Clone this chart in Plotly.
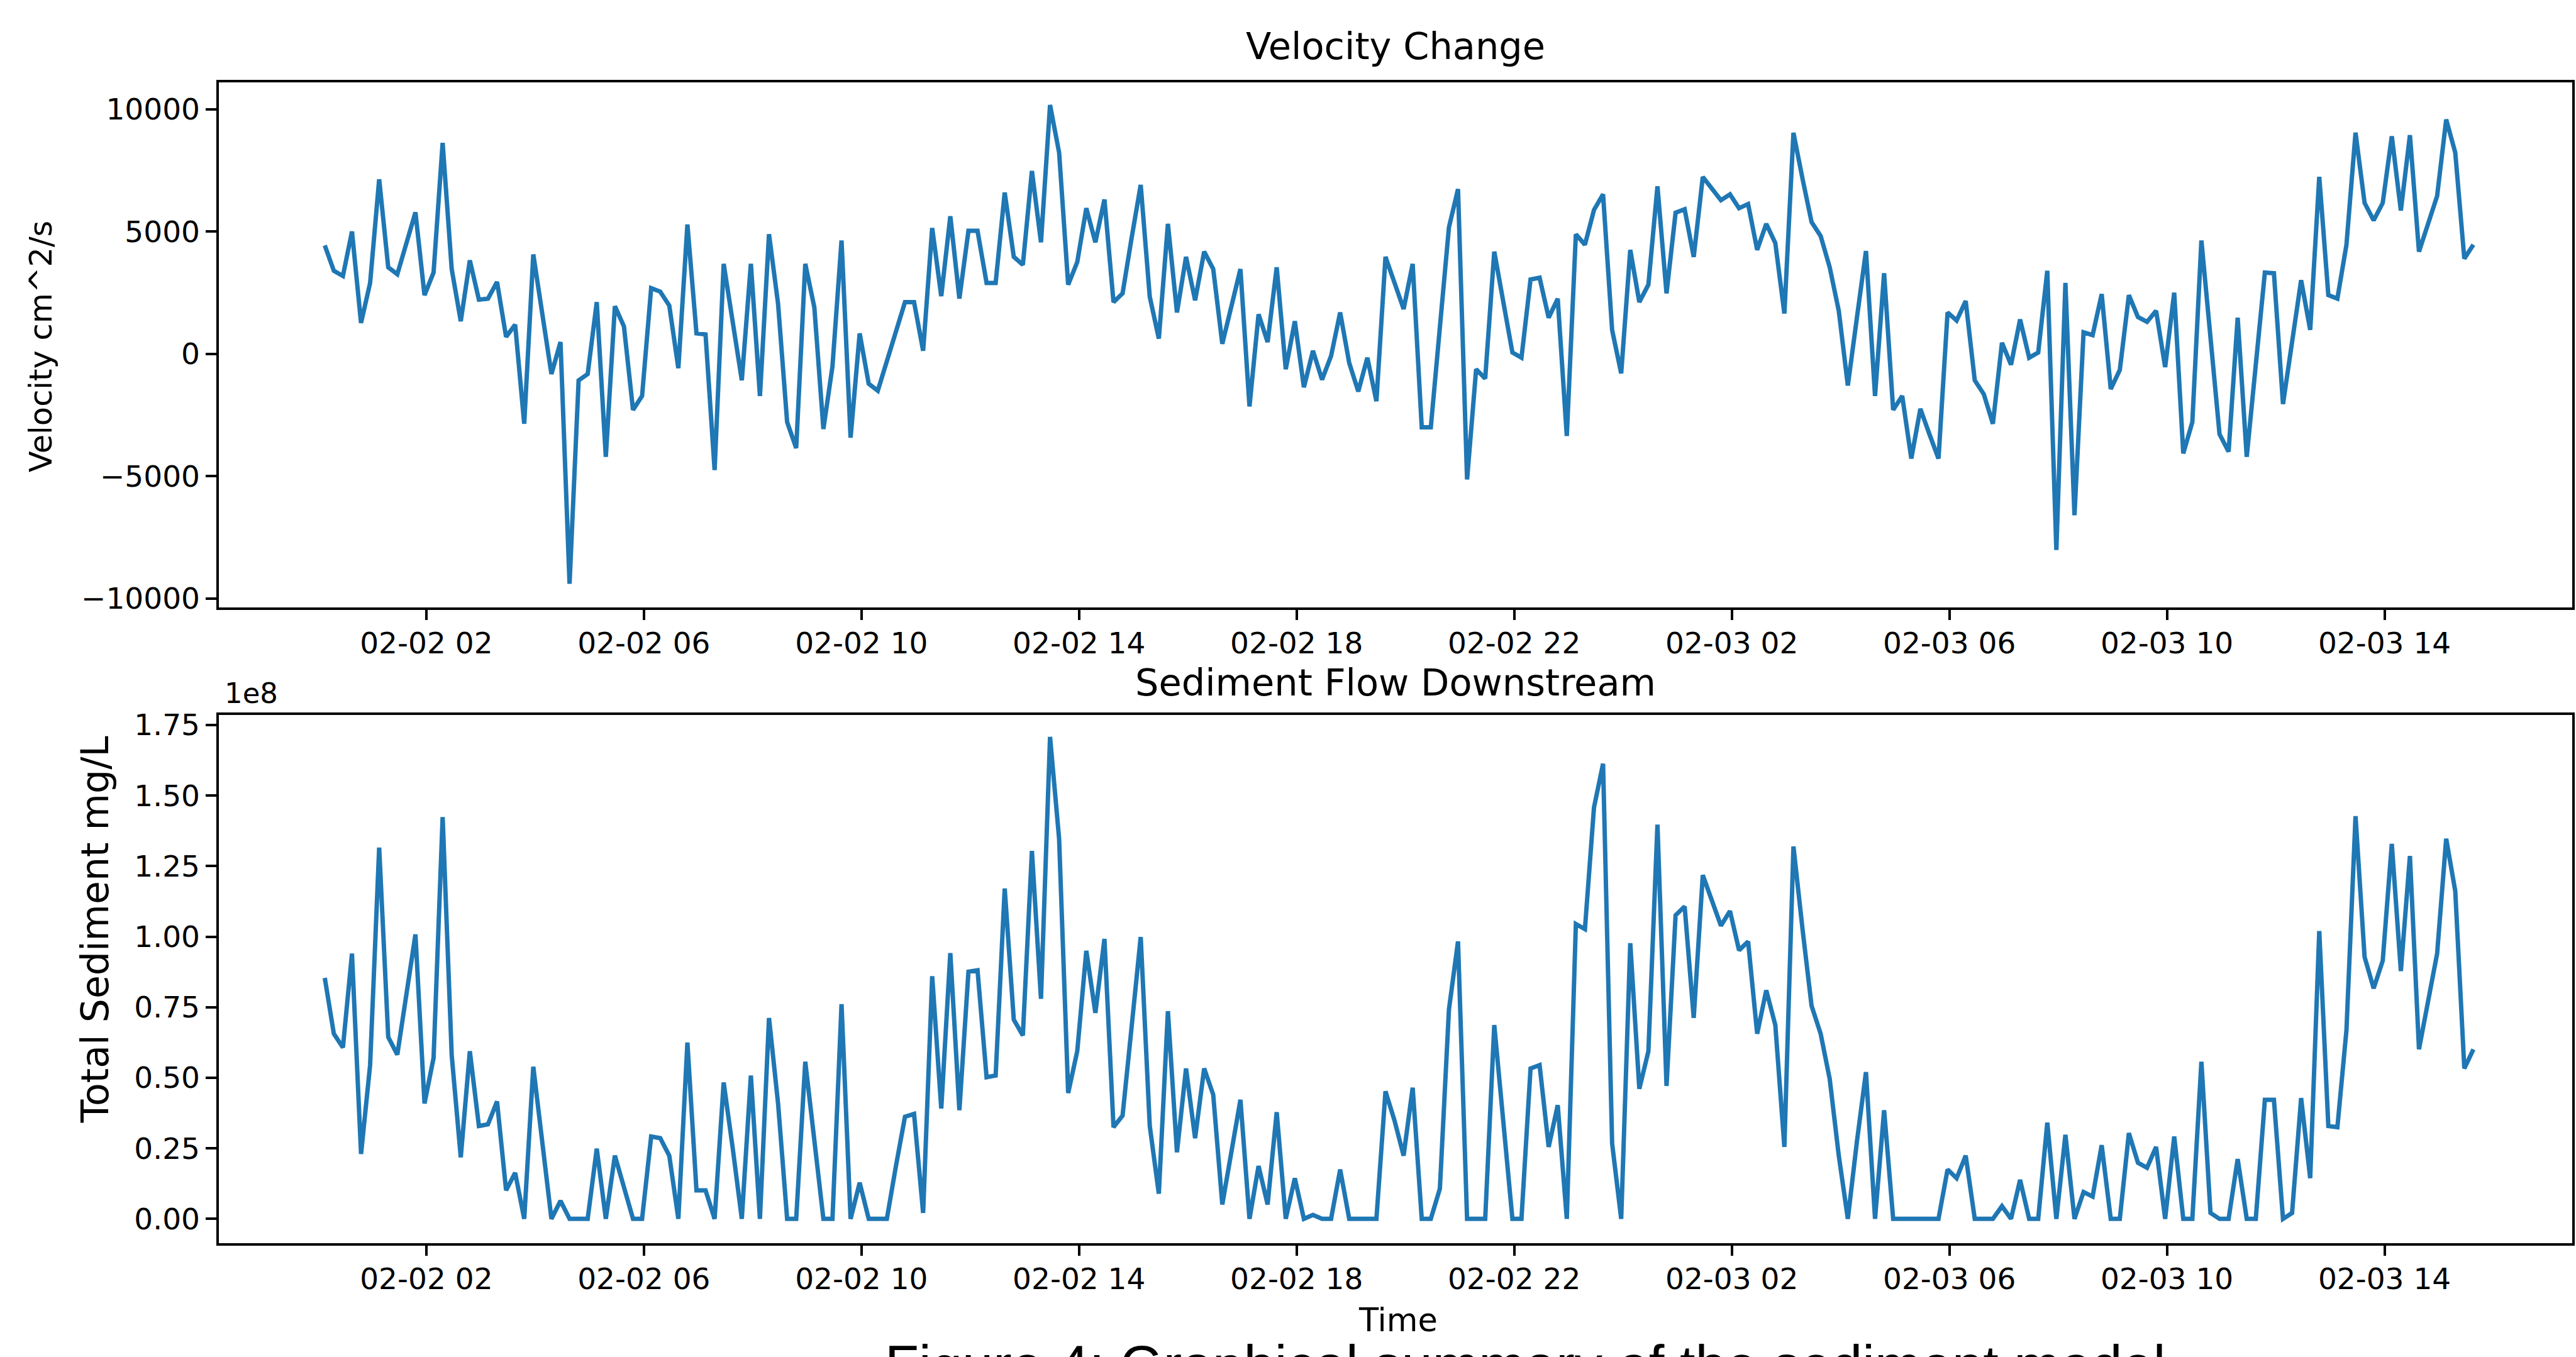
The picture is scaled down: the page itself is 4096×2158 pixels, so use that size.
import plotly.graph_objects as go
import pandas as pd

# ---------------- data ----------------
START = "2018-02-02 00:08"
STEP = "10min"

velocity = [
    4434, 3396, 3183, 5002, 1265, 2899, 7133, 3538, 3254, 4462,
    5783, 2401, 3325, 8625, 3467, 1336, 3822, 2217, 2259, 2941,
    696, 1194, -2856, 4064, 1620, -824, 483, -9393, -1080, -824,
    2117, -4206, 1947, 1123, -2288, -1719, 2686, 2544, 1975, -583,
    5286, 838, 796, -4746, 3680, 1336, -1080,
    3680, -1719, 4888, 2046, -2785, -3851, 3680, 1904, -3069, -512,
    4632, -3425, 838, -1222, -1506, -298, 909, 2117, 2117, 128,
    5144, 2359, 5627, 2259, 5030, 5030, 2899, 2899, 6593, 3965,
    3638, 7474, 4561, 10174, 8228, 2828, 3751, 5954, 4561, 6309,
    2117, 2473, 4746, 6906, 2330, 625, 5315, 1691,
    3965, 2188, 4178, 3467, 412, 1904, 3467, -2146, 1620, 483,
    3538, -625, 1336, -1364, 128, -1052, -85, 1691, -369, -1535,
    -156, -1933, 3965, 2899, 1833, 3680, -2998, -2998, 1080, 5172,
    6735, -5130, -625, -1009, 4178, 2046, 57, -156, 3041, 3112,
    1478, 2259, -3354, 4888, 4462, 5883, 6522,
    980, -796, 4249, 2117, 2828, 6849, 2473, 5769, 5911, 3965,
    7233, 6735, 6281, 6522, 5954, 6125, 4249, 5315, 4533, 1648,
    9038, 7162, 5386, 4817, 3538, 1762, -1293, 1478, 4206, -1719,
    3297, -2288, -1719, -4277, -2245, -3283, -4277, 1691, 1364, 2160,
    -1080, -1648, -2856, 455, -441, 1407, -156,
    57, 3396, -8014, 2899, -6593, 881, 767, 2444, -1435, -654,
    2401, 1506, 1307, 1762, -540, 2501, -4064, -2785, 4632, 625,
    -3283, -3993, 1478, -4206, -369, 3325, 3297, -2046, 483, 3013,
    980, 7233, 2401, 2259, 4462, 9038, 6167, 5457, 6167, 8895,
    5855, 8938, 4178, 5315, 6451, 9578, 8228, 3894, 4462,
]

# total sediment, in units of 1e8 mg/L
sediment_1e8 = [
    0.854, 0.656, 0.607, 0.940, 0.230, 0.545, 1.316, 0.644, 0.582, 0.790,
    1.008, 0.409, 0.570, 1.424, 0.580, 0.218, 0.594, 0.329, 0.335, 0.416,
    0.101, 0.163, 0.0, 0.539, 0.270, 0.0, 0.064, 0.0, 0.0, 0.0,
    0.249, 0.0, 0.224, 0.110, 0.0, 0.0, 0.292, 0.286, 0.224, 0.0,
    0.625, 0.101, 0.101, 0.0, 0.483, 0.250, 0.0,
    0.508, 0.0, 0.712, 0.409, 0.0, 0.0, 0.557, 0.286, 0.0, 0.0,
    0.761, 0.0, 0.128, 0.0, 0.0, 0.0, 0.187, 0.362, 0.372, 0.021,
    0.860, 0.391, 0.942, 0.385, 0.876, 0.881, 0.502, 0.508, 1.171, 0.706,
    0.650, 1.304, 0.780, 1.708, 1.347, 0.446, 0.594, 0.950, 0.730, 0.992,
    0.325, 0.366, 0.681, 0.999, 0.329, 0.089, 0.736, 0.236,
    0.533, 0.286, 0.533, 0.440, 0.051, 0.236, 0.422, 0.0, 0.187, 0.051,
    0.378, 0.0, 0.144, 0.0, 0.014, 0.0, 0.0, 0.175, 0.0, 0.0,
    0.0, 0.0, 0.452, 0.348, 0.224, 0.465, 0.0, 0.0, 0.107, 0.742,
    0.983, 0.0, 0.0, 0.0, 0.687, 0.348, 0.0, 0.0, 0.533, 0.545,
    0.255, 0.403, 0.0, 1.045, 1.027, 1.458, 1.613,
    0.267, 0.0, 0.977, 0.461, 0.594, 1.397, 0.471, 1.076, 1.107, 0.712,
    1.218, 1.125, 1.039, 1.091, 0.952, 0.983, 0.656, 0.810, 0.687, 0.255,
    1.320, 1.027, 0.755, 0.656, 0.496, 0.224, 0.0, 0.274, 0.520, 0.0,
    0.385, 0.0, 0.0, 0.0, 0.0, 0.0, 0.0, 0.175, 0.144, 0.224,
    0.0, 0.0, 0.0, 0.045, 0.0, 0.138, 0.0,
    0.0, 0.341, 0.0, 0.298, 0.0, 0.095, 0.079, 0.261, 0.0, 0.0,
    0.304, 0.199, 0.181, 0.255, 0.0, 0.292, 0.0, 0.0, 0.557, 0.021,
    0.0, 0.0, 0.212, 0.0, 0.0, 0.422, 0.422, 0.0, 0.021, 0.428,
    0.144, 1.020, 0.329, 0.325, 0.669, 1.427, 0.928, 0.817, 0.915, 1.329,
    0.878, 1.286, 0.601, 0.780, 0.940, 1.347, 1.162, 0.533, 0.601,
]
SED_SCALE = 1e8

x_tick_labels = ["02-02 02", "02-02 06", "02-02 10", "02-02 14", "02-02 18",
                 "02-02 22", "02-03 02", "02-03 06", "02-03 10", "02-03 14"]
vel_tick_values = [-10000, -5000, 0, 5000, 10000]
vel_tick_labels = ["\u221210000", "\u22125000", "0", "5000", "10000"]
sed_tick_values = [0.0, 0.25, 0.5, 0.75, 1.0, 1.25, 1.5, 1.75]
sed_tick_labels = ["0.00", "0.25", "0.50", "0.75", "1.00", "1.25", "1.50", "1.75"]

title_top = "Velocity Change"
title_bottom = "Sediment Flow Downstream"
ylabel_top = "Velocity cm^2/s"
ylabel_bottom = "Total Sediment mg/L"
xlabel = "Time"
offset_label = "1e8"
caption = "Figure 4: Graphical summary of the sediment model"

# ---------------- geometry ----------------
W, H = 4096, 2158
S = 0.945
BLUE = "#1f77b4"
FONT = "DejaVu Sans"
# small vertical correction observed in the rendered page
VA, VB = 0.9895, 7.34

times = pd.date_range(START, periods=len(velocity), freq=STEP)
tick_times = [pd.Timestamp("2018-" + lbl[:5] + " " + lbl[6:] + ":00") for lbl in x_tick_labels]
sediment = [v * SED_SCALE for v in sediment_1e8]

def px_x(x):
    return x * S / W

def px_y(y):
    t = (y * S - VB) / VA
    return 1 - t / H

x_dom = [px_x(368), px_x(4328)]
top_dom = [px_y(1019), px_y(134.7)]
bot_dom = [px_y(2090), px_y(1200.5)]
x_range = ["2018-02-01 22:11", "2018-02-03 17:27"]

tick_font = dict(family=FONT, size=47, color="#000000")
axis_common = dict(
    showline=True, mirror=True, linecolor="#000000", linewidth=3.8,
    ticks="outside", ticklen=16.5, tickwidth=3.8, tickcolor="#000000",
    showgrid=False, zeroline=False, tickfont=tick_font,
)

fig = go.Figure()
fig.add_trace(go.Scatter(x=times, y=velocity, mode="lines",
                         line=dict(color=BLUE, width=7), xaxis="x", yaxis="y",
                         showlegend=False, hoverinfo="skip"))
fig.add_trace(go.Scatter(x=times, y=sediment, mode="lines",
                         line=dict(color=BLUE, width=7), xaxis="x2", yaxis="y2",
                         showlegend=False, hoverinfo="skip"))

fig.update_layout(
    width=W, height=H, autosize=False,
    margin=dict(l=0, r=0, t=0, b=0),
    paper_bgcolor="white", plot_bgcolor="white",
    hovermode=False,
    font=dict(family=FONT, color="#000000"),
    xaxis=dict(domain=x_dom, anchor="y", range=x_range, tickvals=tick_times,
               ticktext=x_tick_labels, ticklabelstandoff=-3, **axis_common),
    yaxis=dict(domain=top_dom, anchor="x", range=[-10350, 11100],
               tickvals=vel_tick_values, ticktext=vel_tick_labels, **axis_common),
    xaxis2=dict(domain=x_dom, anchor="y2", range=x_range, tickvals=tick_times,
                ticktext=x_tick_labels, ticklabelstandoff=-3, **axis_common),
    yaxis2=dict(domain=bot_dom, anchor="x2", range=[-0.0852 * SED_SCALE, 1.786 * SED_SCALE],
                tickvals=[v * SED_SCALE for v in sed_tick_values],
                ticktext=sed_tick_labels, **axis_common),
)

def text_ann(text, x, y, size, xanchor="center", yanchor="middle", angle=0, family=FONT):
    return dict(text=text, x=px_x(x), y=px_y(y), xref="paper", yref="paper",
                xanchor=xanchor, yanchor=yanchor, textangle=angle, showarrow=False,
                font=dict(family=family, size=size, color="#000000"))

ann = [
    text_ann(title_top, 2348, 74, 59),
    text_ann(title_bottom, 2348, 1146, 59),
    text_ann(ylabel_top, 69, 580, 49.5, angle=-90),
    text_ann(ylabel_bottom, 160, 1562, 60, angle=-90),
    text_ann(xlabel, 2352, 2220, 51),
    text_ann(offset_label, 376, 1164, 45, xanchor="left"),
    text_ann(caption, 1487, 2242, 88.5, xanchor="left", yanchor="top", family="Liberation Sans"),
]
fig.update_layout(annotations=ann)

POST = (
    "document.documentElement.style.margin='0';"
    "document.documentElement.style.overflow='hidden';"
    "document.body.style.margin='0';"
    "document.body.style.overflow='hidden';"
    "var d=document.getElementById('{plot_id}');"
    "d.style.position='fixed';d.style.left='0px';d.style.top='0px';"
)
fig.write_html("out.html", config={"displayModeBar": False}, post_script=POST)
